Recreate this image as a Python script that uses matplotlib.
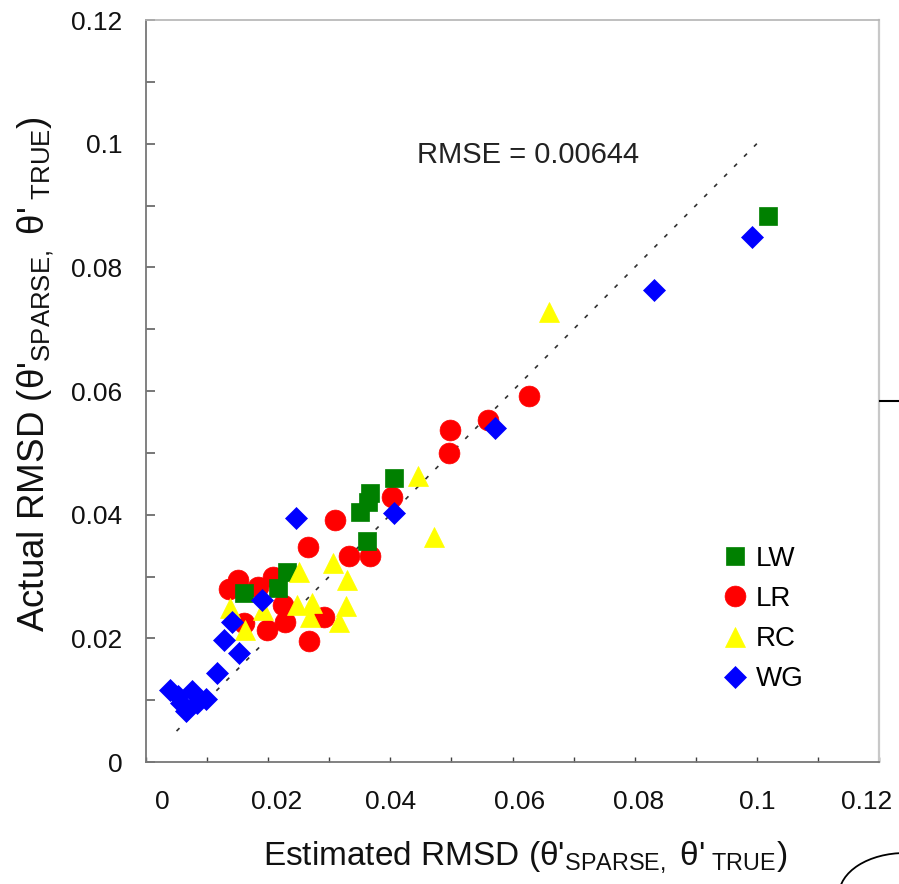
import matplotlib
matplotlib.use("Agg")
import matplotlib.pyplot as plt
from matplotlib.lines import Line2D
from matplotlib.patches import Arc
from matplotlib.transforms import ScaledTranslation

FONT = "Liberation Sans"
plt.rcParams['font.family'] = [FONT, 'DejaVu Sans']
plt.rcParams['mathtext.fontset'] = 'custom'
plt.rcParams['mathtext.rm'] = FONT
plt.rcParams['mathtext.it'] = FONT
plt.rcParams['mathtext.default'] = 'regular'

# ---- data ----
lw_x = [0.1018, 0.0406, 0.0367, 0.0363, 0.0350, 0.0362, 0.0231, 0.0216, 0.0160]
lw_y = [0.0883, 0.0459, 0.0435, 0.0420, 0.0404, 0.0357, 0.0307, 0.0281, 0.0273]

lr_x = [0.0309, 0.0265, 0.0151, 0.0136, 0.0183, 0.0208, 0.0224, 0.0228, 0.0198, 0.0160,
        0.0291, 0.0267, 0.0332, 0.0367, 0.0403, 0.0496, 0.0498, 0.0560, 0.0627]
lr_y = [0.0391, 0.0348, 0.0294, 0.0280, 0.0283, 0.0299, 0.0254, 0.0226, 0.0213, 0.0225,
        0.0235, 0.0196, 0.0333, 0.0333, 0.0429, 0.0500, 0.0537, 0.0553, 0.0592]

rc_x = [0.0250, 0.0306, 0.0329, 0.0247, 0.0272, 0.0268, 0.0327, 0.0316, 0.0192, 0.0162,
        0.0138, 0.0472, 0.0445, 0.0660]
rc_y = [0.0307, 0.0322, 0.0294, 0.0254, 0.0257, 0.0235, 0.0252, 0.0226, 0.0246, 0.0213,
        0.0249, 0.0364, 0.0463, 0.0728]

wg_x = [0.0992, 0.0832, 0.0571, 0.0406, 0.0246, 0.0190, 0.0141, 0.0128, 0.0152, 0.0116,
        0.0039, 0.0052, 0.0075, 0.0083, 0.0098, 0.0065, 0.0057]
wg_y = [0.0849, 0.0763, 0.0540, 0.0403, 0.0395, 0.0262, 0.0226, 0.0197, 0.0176, 0.0144,
        0.0116, 0.0107, 0.0115, 0.0095, 0.0102, 0.0082, 0.0095]

fit_x = [0.005, 0.100]
fit_y = [0.005, 0.100]

series_labels = ["LW", "LR", "RC", "WG"]
x_ticks = [0.0, 0.02, 0.04, 0.06, 0.08, 0.10, 0.12]
x_tick_labels = ["0", "0.02", "0.04", "0.06", "0.08", "0.1", "0.12"]
y_ticks = [0.0, 0.02, 0.04, 0.06, 0.08, 0.10, 0.12]
y_tick_labels = ["0", "0.02", "0.04", "0.06", "0.08", "0.1", "0.12"]
rmse_text = "RMSE = 0.00644"
x_label = "Estimated RMSD (θ'$_{SPARSE,}$ θ'$_{\\ TRUE}$)"
y_label = "Actual RMSD (θ'$_{SPARSE,}$ θ'$_{\\ TRUE}$)"

# ---- figure ----
W, H = 899, 884
fig = plt.figure(figsize=(W / 100, H / 100), dpi=100)
ax = fig.add_axes([146 / W, 1 - 762 / H, (879 - 146) / W, (762 - 20) / H])
ax.set_xlim(0, 0.12)
ax.set_ylim(0, 0.12)

styles = {
    "LW": dict(marker='s', color='#008000', ms=13),
    "LR": dict(marker='o', color='#ff0000', ms=15),
    "RC": dict(marker='^', color='#ffff00', ms=15),
    "WG": dict(marker='D', color='#0000ff', ms=11),
}
data = {"LW": (lw_x, lw_y), "LR": (lr_x, lr_y), "RC": (rc_x, rc_y), "WG": (wg_x, wg_y)}
zorders = {"LR": 3, "LW": 4, "RC": 5, "WG": 6}

ax.plot(fit_x, fit_y, color='#303030', lw=1.2, linestyle=(0, (2.5, 6)), zorder=2)

for name in ["LR", "LW", "RC", "WG"]:
    st = styles[name]
    xs, ys = data[name]
    ax.plot(xs, ys, linestyle='none', marker=st['marker'], ms=st['ms'],
            markerfacecolor=st['color'], markeredgecolor=st['color'],
            markeredgewidth=0.5, zorder=zorders[name])

ax.text(0.0626, 0.0982, rmse_text, ha='center', va='center', fontsize=21, color='#222222')

# ticks
ax.set_xticks(x_ticks)
ax.set_xticklabels(x_tick_labels)
ax.set_yticks(y_ticks)
ax.set_yticklabels(y_tick_labels)
ax.set_xticks([0.01 * k for k in range(1, 12, 2)], minor=True)
ax.set_yticks([0.01 * k for k in range(1, 12, 2)], minor=True)
ax.tick_params(axis='x', which='both', direction='in', length=3.6, width=1.0,
               color='#404040', labelsize=19, pad=20, labelcolor='#111111')
ax.tick_params(axis='y', which='both', direction='in', length=6.5, width=1.2,
               color='#606060', labelsize=19, pad=17, labelcolor='#111111')

# per-label offsets as in the reference (pixels)
x_off = [16, 8, 0, 7, 4, 0, -12]
for lab, dx in zip(ax.get_xticklabels(), x_off):
    lab.set_transform(lab.get_transform() + ScaledTranslation(dx / 100, 0, fig.dpi_scale_trans))

for side, col, lw in [('left', '#777777', 1.3), ('bottom', '#777777', 1.3),
                      ('top', '#b4b4b4', 1.2), ('right', '#c8c8c8', 1.6)]:
    ax.spines[side].set_color(col)
    ax.spines[side].set_linewidth(lw)

ax.set_xlabel(x_label, fontsize=24, va='center', color='#111111')
ax.xaxis.set_label_coords((525 - 146) / 733, (762 - 857) / 742)
ax.set_ylabel(y_label, fontsize=26.5, va='center', color='#111111')
ax.yaxis.set_label_coords((36 - 146) / 733, (762 - 374) / 742)

# legend
handles = [Line2D([], [], linestyle='none', marker=styles[n]['marker'], ms=styles[n]['ms'],
                  markerfacecolor=styles[n]['color'], markeredgecolor=styles[n]['color'],
                  markeredgewidth=0.5) for n in series_labels]
leg = ax.legend(handles, series_labels, loc='upper left',
                bbox_to_anchor=(721 / W, 1 - 546 / H), bbox_transform=fig.transFigure,
                frameon=False, fontsize=20, handlelength=1.0, handletextpad=0.25,
                borderpad=0, borderaxespad=0, labelspacing=0.51)

# fragments of neighbouring drawing at the right edge
fig.add_artist(Line2D([880 / W, 1.0], [1 - 401 / H] * 2, transform=fig.transFigure,
                      color='black', lw=1.5))
fig.add_artist(Arc((905 / W, 1 - 895 / H), 2 * 66 / W, 2 * 42 / H, theta1=90, theta2=180,
                   transform=fig.transFigure, color='black', lw=1.3))

fig.savefig("out.png", dpi=100)
